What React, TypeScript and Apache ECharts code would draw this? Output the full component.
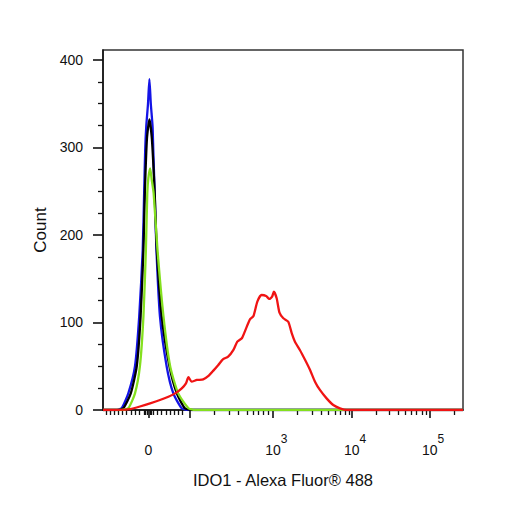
import { useEffect, useRef } from 'react';
import * as echarts from 'echarts';

// x values are display channels (0-1024) of the biexponential FITC axis
const blueX = [0, 37, 53, 72, 91, 103, 113, 117, 120, 123, 128, 132, 136, 141, 143, 147, 152, 162, 181, 200, 224, 242, 1024];
const blueY = [0, 0, 2, 19, 50, 107, 183, 248, 297, 324, 350, 378, 350, 324, 297, 248, 183, 107, 50, 19, 2, 0, 0];

const blackX = [0, 43, 58, 79, 96, 107, 115, 119, 125, 132, 139, 147, 153, 167, 189, 210, 233, 253, 1024];
const blackY = [0, 0, 2, 19, 50, 107, 183, 248, 310, 332, 310, 248, 183, 107, 50, 19, 2, 0, 0];

const greenX = [0, 54, 72, 91, 105, 115, 122, 126, 129, 134, 139, 144, 155, 172, 191, 214, 243, 262, 1024];
const greenY = [0, 0, 2, 19, 50, 107, 183, 248, 265, 276, 262, 248, 183, 107, 50, 19, 2, 0, 0];

const redX = [
  0, 63, 77, 105, 134, 162, 186, 205, 224, 236, 243, 252, 267, 285, 300, 314, 328, 341, 356, 371,
  382, 395, 407, 418, 428, 439, 451, 464, 473, 481, 486, 494, 502, 513, 527, 537, 546, 560, 575, 589,
  603, 617, 636, 655, 674, 693, 1024,
];
const redY = [
  0, 0.5, 1, 4, 7.6, 11.4, 15.2, 19, 24.8, 30.5, 37.5, 32.4, 34.3, 35, 38.9, 45, 51.4, 57.9, 60.9, 68.6,
  78.1, 82, 93.3, 103.6, 107.4, 123.8, 131.4, 130.3, 126.9, 129.5, 135.2, 127.7, 111.2, 104.8, 100.9, 87.6, 78.1, 68.6, 57.1, 45.7,
  32.4, 22.9, 13.3, 5.7, 1.9, 0, 0,
];

// axis ticks (channels) and labels
const xMajorTicks = [129, 246, 483, 707, 929];
const xMinorTicks = [
  9, 20, 31, 44, 55, 67, 79, 91, 103, 117, 121, 125, 134, 138, 142, 155, 167, 179, 191, 202, 214, 226,
  316, 359, 384, 409, 428, 442, 456, 470,
  553, 594, 622, 641, 660, 674, 688, 700,
  777, 814, 840, 859, 878, 892, 907, 919, 998,
];
const xLabelValues = [129, 483, 707, 929];
const xLabelBase = ['0', '10', '10', '10'];
const xLabelExp = ['', '3', '4', '5'];

const yMajorTicks = [0, 100, 200, 300, 400];
const yMinorTicks = [25, 50, 75, 125, 150, 175, 225, 250, 275, 325, 350, 375];

const FONT = 'Liberation Sans, Arial, sans-serif';
const X_MAX = 1024;
const Y_MAX = 411.4;

const zip = (xs: number[], ys: number[]) => xs.map((x, i) => [x, ys[i]]);

export default function App() {
  const chartRef = useRef<HTMLDivElement>(null);

  useEffect(() => {
    if (!chartRef.current) return;
    document.body.style.margin = '0';
    const chart = echarts.init(chartRef.current, null, { renderer: 'svg' });

    const line = (name: string, color: string, data: number[][]) => ({
      name,
      type: 'line' as const,
      showSymbol: false,
      smooth: 0.2,
      lineStyle: { color, width: 2.3 },
      data,
    });

    const supStyle = { fontSize: 12, lineHeight: 12, padding: [0, 0, 22, 0], fontFamily: FONT, color: '#111' };

    const option: echarts.EChartsOption = {
      animation: false,
      grid: {
        left: 103,
        top: 50,
        width: 360,
        height: 360,
        show: true,
        borderColor: '#333',
        borderWidth: 1.5,
        outerBoundsMode: 'none',
      } as any,
      xAxis: [
        {
          type: 'value',
          position: 'bottom',
          min: 0,
          max: X_MAX,
          name: 'IDO1 - Alexa Fluor® 488',
          nameLocation: 'middle',
          nameGap: 60,
          nameTextStyle: { fontSize: 16.5, fontFamily: FONT, color: '#111' },
          axisLine: { show: true, lineStyle: { color: '#111', width: 1.5 } },
          axisTick: { show: true, length: 8, customValues: xMajorTicks, lineStyle: { color: '#111', width: 1.6 } },
          axisLabel: {
            margin: 33,
            customValues: xLabelValues,
            formatter: (v: number) => {
              const i = xLabelValues.indexOf(v);
              if (i < 0) return '';
              const exp = xLabelExp[i];
              return exp
                ? `{h| }{b|${xLabelBase[i]}}{s|${exp}}`
                : `{h| }{b|${xLabelBase[i]}}{h| }`;
            },
            rich: {
              b: { fontSize: 14, lineHeight: 14, verticalAlign: 'bottom', fontFamily: FONT, color: '#111' },
              s: supStyle,
              h: { ...supStyle, width: 7 },
            },
          },
          splitLine: { show: false },
        } as any,
        {
          type: 'value',
          position: 'bottom',
          min: 0,
          max: X_MAX,
          axisLine: { show: false },
          axisTick: { show: true, length: 5, customValues: xMinorTicks, lineStyle: { color: '#111', width: 1.3 } },
          axisLabel: { show: false },
          splitLine: { show: false },
        } as any,
      ],
      yAxis: [
        {
          type: 'value',
          position: 'left',
          min: 0,
          max: Y_MAX,
          name: 'Count',
          nameLocation: 'middle',
          nameGap: 50,
          nameTextStyle: { fontSize: 17, fontFamily: FONT, color: '#111' },
          axisLine: { show: true, lineStyle: { color: '#111', width: 1.5 } },
          axisTick: { show: true, length: 10, customValues: yMajorTicks, lineStyle: { color: '#111', width: 1.6 } },
          axisLabel: { margin: 20, fontSize: 14, fontFamily: FONT, color: '#111', customValues: yMajorTicks },
          splitLine: { show: false },
        } as any,
        {
          type: 'value',
          position: 'left',
          min: 0,
          max: Y_MAX,
          axisLine: { show: false },
          axisTick: { show: true, length: 5, customValues: yMinorTicks, lineStyle: { color: '#111', width: 1.3 } },
          axisLabel: { show: false },
          splitLine: { show: false },
        } as any,
      ],
      series: [
        line('Isotype', '#1414e6', zip(blueX, blueY)),
        line('Unstained', '#000000', zip(blackX, blackY)),
        line('Secondary only', '#84e01e', zip(greenX, greenY)),
        line('IDO1', '#f01414', zip(redX, redY)),
      ],
    };

    chart.setOption(option);
    return () => {
      chart.dispose();
    };
  }, []);

  return <div ref={chartRef} style={{ width: 506, height: 506 }} />;
}
